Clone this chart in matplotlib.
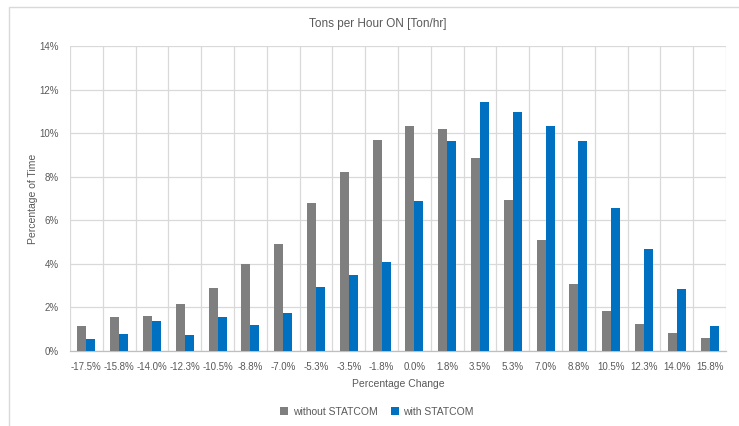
import matplotlib
matplotlib.use("Agg")
import matplotlib.pyplot as plt
import numpy as np
from matplotlib.patches import Rectangle
from matplotlib.ticker import FuncFormatter, MultipleLocator

categories = ["-17.5%", "-15.8%", "-14.0%", "-12.3%", "-10.5%", "-8.8%", "-7.0%",
              "-5.3%", "-3.5%", "-1.8%", "0.0%", "1.8%", "3.5%", "5.3%", "7.0%",
              "8.8%", "10.5%", "12.3%", "14.0%", "15.8%"]
without_statcom = [1.17, 1.54, 1.60, 2.18, 2.90, 3.99, 4.91, 6.78, 8.21, 9.68,
                   10.35, 10.21, 8.84, 6.91, 5.08, 3.07, 1.84, 1.25, 0.84, 0.61]
with_statcom = [0.55, 0.77, 1.37, 0.72, 1.54, 1.18, 1.73, 2.93, 3.48, 4.07,
                6.87, 9.64, 11.44, 10.97, 10.33, 9.64, 6.55, 4.66, 2.84, 1.13]

plt.rcParams['font.family'] = ['Liberation Sans', 'DejaVu Sans']
text_color = '#595959'
grid_color = '#D9D9D9'

fig = plt.figure(figsize=(7.39, 4.26), dpi=100)
fig.patches.append(Rectangle((8.5 / 739, -0.2), 1.2, 1.2 - 6.5 / 426, transform=fig.transFigure,
                             fill=False, edgecolor=grid_color, linewidth=1.0))

ax = fig.add_axes([70 / 739, 1 - 351 / 426, (726 - 70) / 739, (351 - 46) / 426])
x = np.arange(len(categories))
w = 0.275
ax.bar(x - w / 2, without_statcom, w, color='#7F7F7F', label='without STATCOM', zorder=3)
ax.bar(x + w / 2, with_statcom, w, color='#0070C0', label='with STATCOM', zorder=3)

ax.set_xlim(-0.5, len(categories) - 0.5)
ax.set_ylim(0, 14)
ax.yaxis.set_major_locator(MultipleLocator(2))
ax.yaxis.set_major_formatter(FuncFormatter(lambda v, p: f"{v:.0f}%"))
ax.set_xticks(x)
ax.set_xticklabels(categories)
ax.set_xticks(np.arange(-0.5, len(categories), 1.0), minor=True)

ax.grid(axis='y', which='major', color=grid_color, linewidth=0.9, zorder=0)
ax.grid(axis='x', which='minor', color=grid_color, linewidth=0.9, zorder=0)
ax.tick_params(axis='both', which='both', length=0, labelsize=7, colors=text_color)
ax.tick_params(axis='x', pad=8)
ax.tick_params(axis='y', pad=8)
for s in ['top', 'right', 'left']:
    ax.spines[s].set_visible(False)
ax.spines['bottom'].set_color('#BFBFBF')
ax.spines['bottom'].set_linewidth(0.9)

ax.set_xlabel('Percentage Change', fontsize=7.5, color=text_color, labelpad=5)
ax.set_ylabel('Percentage of Time', fontsize=7.5, color=text_color, labelpad=1)
fig.text(378 / 739, 1 - 24 / 426, 'Tons per Hour ON [Ton/hr]', ha='center', va='center',
         fontsize=8.5, color=text_color)

fig.legend(loc='center', bbox_to_anchor=(377 / 739, 1 - 412 / 426), ncol=2, frameon=False,
           fontsize=7.5, labelcolor=text_color, handlelength=0.8, handleheight=0.8,
           handletextpad=0.4, columnspacing=1.3)

fig.savefig('out.png', dpi=100)
